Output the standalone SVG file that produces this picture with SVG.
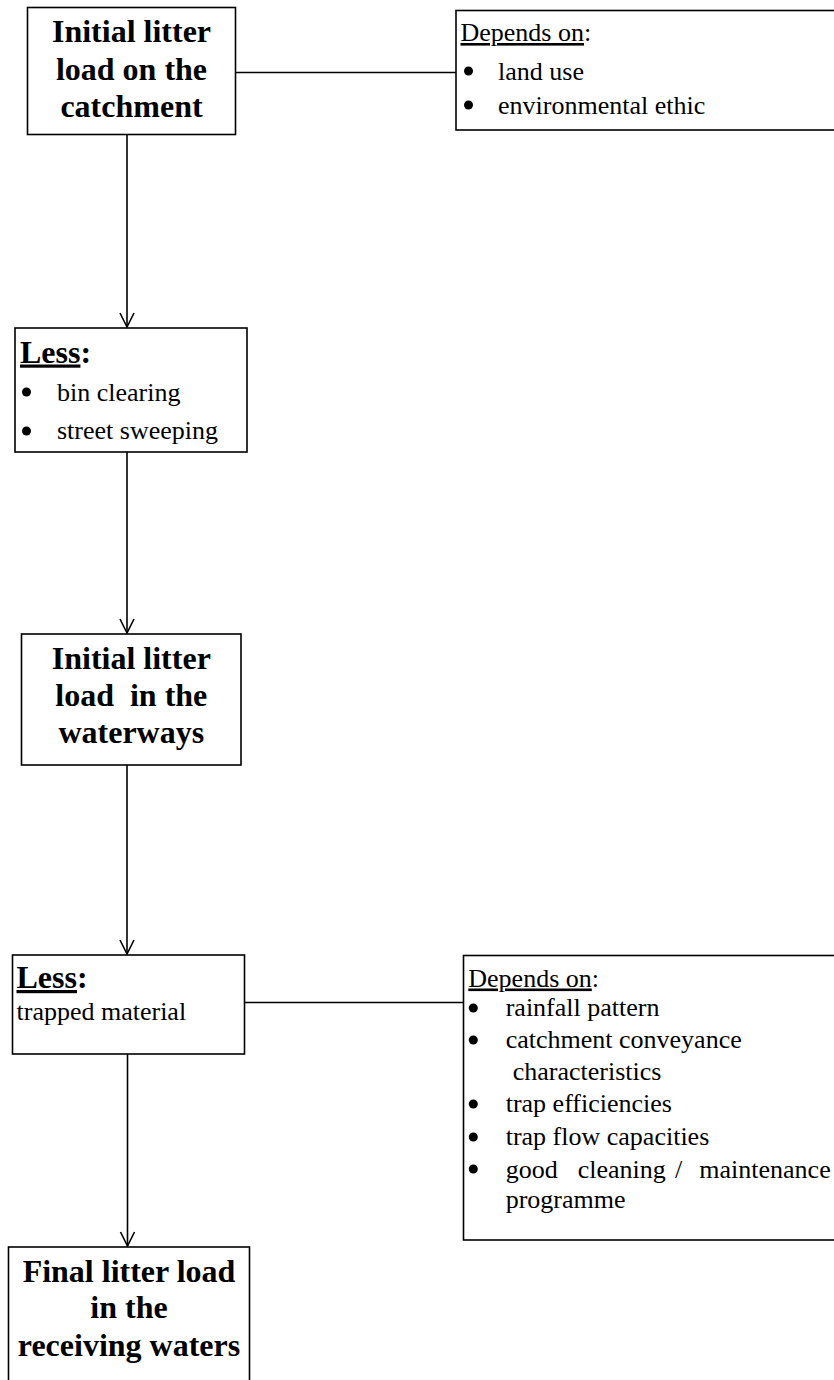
<svg xmlns="http://www.w3.org/2000/svg" width="834" height="1380" viewBox="0 0 834 1380">
<style>
.box{fill:#fff;stroke:#000;stroke-width:1.6}
.ln{fill:none;stroke:#000;stroke-width:1.6}
.ttl{font-family:"Liberation Serif","Times New Roman",serif;font-weight:bold;font-size:32px;text-anchor:middle;fill:#000}
.lbl{font-family:"Liberation Serif","Times New Roman",serif;font-weight:bold;font-size:32px;fill:#000}
.txt{font-family:"Liberation Serif","Times New Roman",serif;font-size:26px;fill:#000}
.u{text-decoration:underline}
.bul{fill:#000}
</style>
<defs>
<marker id="arr" markerWidth="18" markerHeight="18" refX="15" refY="8" orient="auto" markerUnits="userSpaceOnUse">
<path d="M1,1 L15,8 L1,15" fill="none" stroke="#000" stroke-width="1.6"/>
</marker>
</defs>
<g id="connectors">
<line class="ln" x1="236" y1="72.5" x2="456" y2="72.5"/>
<line class="ln" x1="127" y1="135" x2="127" y2="327" marker-end="url(#arr)"/>
<line class="ln" x1="127" y1="452" x2="127" y2="633" marker-end="url(#arr)"/>
<line class="ln" x1="127" y1="765" x2="127" y2="954" marker-end="url(#arr)"/>
<line class="ln" x1="244" y1="1002.5" x2="463" y2="1002.5"/>
<line class="ln" x1="127.5" y1="1054" x2="127.5" y2="1246" marker-end="url(#arr)"/>
</g>
<g id="n1">
<rect class="box" x="27.5" y="7.5" width="208" height="127"/>
<text class="ttl" x="131.5" y="42">Initial litter</text>
<text class="ttl" x="131.5" y="79.5">load on the</text>
<text class="ttl" x="131.5" y="117">catchment</text>
</g>
<g id="d1">
<rect class="box" x="456" y="10.5" width="390" height="119.5"/>
<text class="txt" x="460.5" y="41"><tspan class="u">Depends on</tspan>:</text>
<circle class="bul" cx="468.5" cy="71" r="4.5"/>
<text class="txt" x="498" y="80">land use</text>
<circle class="bul" cx="468.5" cy="105" r="4.5"/>
<text class="txt" x="498" y="114">environmental ethic</text>
</g>
<g id="n2">
<rect class="box" x="15" y="328" width="232" height="124"/>
<text class="lbl" x="20" y="362.5"><tspan class="u">Less</tspan>:</text>
<circle class="bul" cx="26.5" cy="392" r="4.5"/>
<text class="txt" x="57" y="400.5">bin clearing</text>
<circle class="bul" cx="26.5" cy="431" r="4.5"/>
<text class="txt" x="57" y="439">street sweeping</text>
</g>
<g id="n3">
<rect class="box" x="21.5" y="634" width="219.5" height="131"/>
<text class="ttl" x="131.3" y="669">Initial litter</text>
<text class="ttl" x="131.3" y="706" xml:space="preserve">load  in the</text>
<text class="ttl" x="131.3" y="743">waterways</text>
</g>
<g id="n4">
<rect class="box" x="12.5" y="955" width="232" height="99"/>
<text class="lbl" x="16.5" y="988"><tspan class="u">Less</tspan>:</text>
<text class="txt" x="16.5" y="1020">trapped material</text>
</g>
<g id="d2">
<rect class="box" x="463.5" y="955.5" width="390" height="284.5"/>
<text class="txt" x="468.3" y="986.5"><tspan class="u">Depends on</tspan>:</text>
<circle class="bul" cx="473.3" cy="1008" r="4.5"/>
<text class="txt" x="505.7" y="1016">rainfall pattern</text>
<circle class="bul" cx="473.3" cy="1040" r="4.5"/>
<text class="txt" x="505.7" y="1048">catchment conveyance</text>
<text class="txt" x="512.7" y="1080">characteristics</text>
<circle class="bul" cx="473.3" cy="1104" r="4.5"/>
<text class="txt" x="505.7" y="1112">trap efficiencies</text>
<circle class="bul" cx="473.3" cy="1137" r="4.5"/>
<text class="txt" x="505.7" y="1145">trap flow capacities</text>
<circle class="bul" cx="473.3" cy="1169" r="4.5"/>
<text class="txt" y="1177.5"><tspan x="505.7">good</tspan><tspan x="577.7">cleaning</tspan><tspan x="675">/</tspan><tspan x="699.3">maintenance</tspan></text>
<text class="txt" x="505.7" y="1208">programme</text>
</g>
<g id="n5">
<rect class="box" x="8.5" y="1247" width="241" height="150"/>
<text class="ttl" x="129" y="1282">Final litter load</text>
<text class="ttl" x="129" y="1318">in the</text>
<text class="ttl" x="129" y="1355.5">receiving waters</text>
</g>
</svg>
